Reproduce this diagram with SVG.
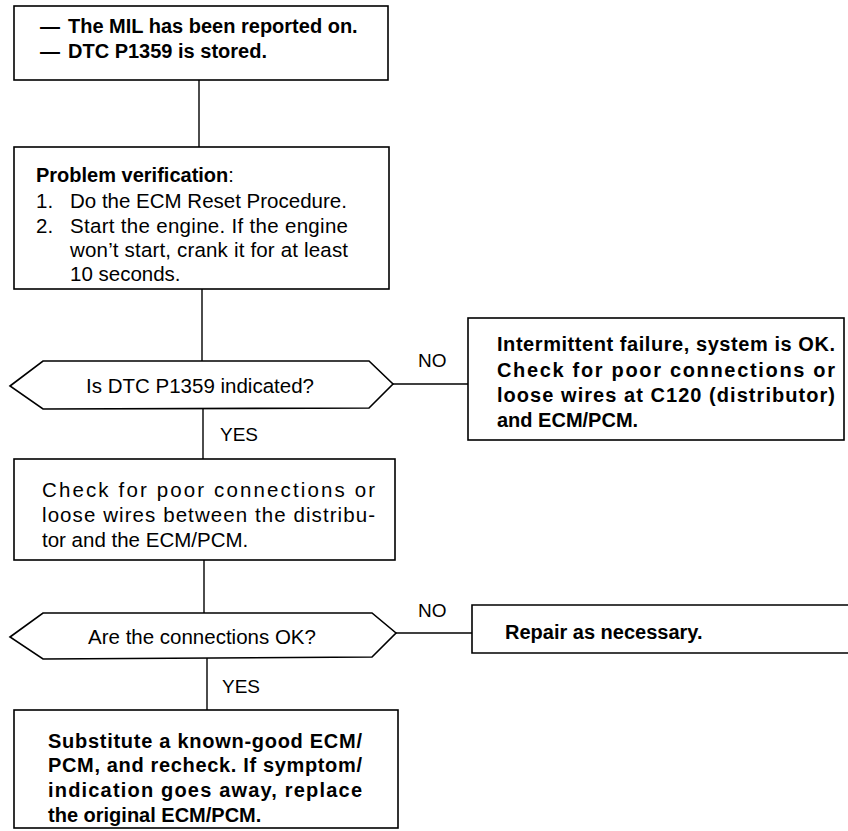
<svg xmlns="http://www.w3.org/2000/svg" width="848" height="831" viewBox="0 0 848 831">
<style>
.box{fill:#fff;stroke:#000;stroke-width:1.6}
.ln{fill:none;stroke:#000;stroke-width:1.4}
text{font-family:"Liberation Sans",Arial,sans-serif;font-size:20.5px;fill:#000}
.b{font-weight:bold;font-size:20px}
.lbl{font-size:19px}
</style>
<rect width="848" height="831" fill="#fff"/>
<g id="connectors">
<line class="ln" x1="199" y1="80" x2="199" y2="147"/>
<line class="ln" x1="202" y1="289" x2="202" y2="361"/>
<line class="ln" x1="393" y1="384" x2="468" y2="384"/>
<line class="ln" x1="203" y1="409" x2="203" y2="459"/>
<line class="ln" x1="204" y1="560" x2="204" y2="613"/>
<line class="ln" x1="396" y1="633" x2="472" y2="633"/>
<line class="ln" x1="207" y1="658" x2="207" y2="710"/>
<text class="lbl" x="418" y="367">NO</text>
<text class="lbl" x="220" y="441">YES</text>
<text class="lbl" x="418" y="617">NO</text>
<text class="lbl" x="222" y="693">YES</text>
</g>
<g id="start">
<rect class="box" x="14" y="6" width="374" height="74"/>
<text class="b" x="40" y="33">—</text>
<text class="b" x="68" y="33">The MIL has been reported on.</text>
<text class="b" x="40" y="58">—</text>
<text class="b" x="68" y="58">DTC P1359 is stored.</text>
</g>
<g id="verify">
<rect class="box" x="14" y="147" width="375" height="142"/>
<text class="b" x="36" y="182">Problem verification<tspan font-weight="normal">:</tspan></text>
<text x="36" y="208">1.</text>
<text x="70" y="208">Do the ECM Reset Procedure.</text>
<text x="36" y="233">2.</text>
<text x="70" y="233" textLength="278">Start the engine. If the engine</text>
<text x="70" y="257" textLength="278">won’t start, crank it for at least</text>
<text x="70" y="281">10 seconds.</text>
</g>
<g id="q1">
<polygon class="box" points="10,386 43,361 369,361 393,384 369,408 43,409"/>
<text x="200" y="393" text-anchor="middle">Is DTC P1359 indicated?</text>
</g>
<g id="intermittent">
<rect class="box" x="468" y="318" width="376" height="122"/>
<text class="b" x="497" y="351" textLength="338">Intermittent failure, system is OK.</text>
<text class="b" x="497" y="377" textLength="338">Check for poor connections or</text>
<text class="b" x="497" y="402" textLength="338">loose wires at C120 (distributor)</text>
<text class="b" x="497" y="427">and ECM/PCM.</text>
</g>
<g id="check">
<rect class="box" x="14" y="459" width="381" height="101"/>
<text x="42" y="497" textLength="333">Check for poor connections or</text>
<text x="42" y="522" textLength="333">loose wires between the distribu-</text>
<text x="42" y="547">tor and the ECM/PCM.</text>
</g>
<g id="q2">
<polygon class="box" points="10,637 43,613 372,613 396,633 372,657 43,659"/>
<text x="202" y="644" text-anchor="middle">Are the connections OK?</text>
</g>
<g id="repair">
<path class="box" d="M850,605 H472 V653 H850"/>
<text class="b" x="505" y="639">Repair as necessary.</text>
</g>
<g id="substitute">
<rect class="box" x="14" y="710" width="384" height="118"/>
<text class="b" x="48" y="748" textLength="314">Substitute a known-good ECM/</text>
<text class="b" x="48" y="772" textLength="314">PCM, and recheck. If symptom/</text>
<text class="b" x="48" y="797" textLength="314">indication goes away, replace</text>
<text class="b" x="48" y="822">the original ECM/PCM.</text>
</g>
</svg>
